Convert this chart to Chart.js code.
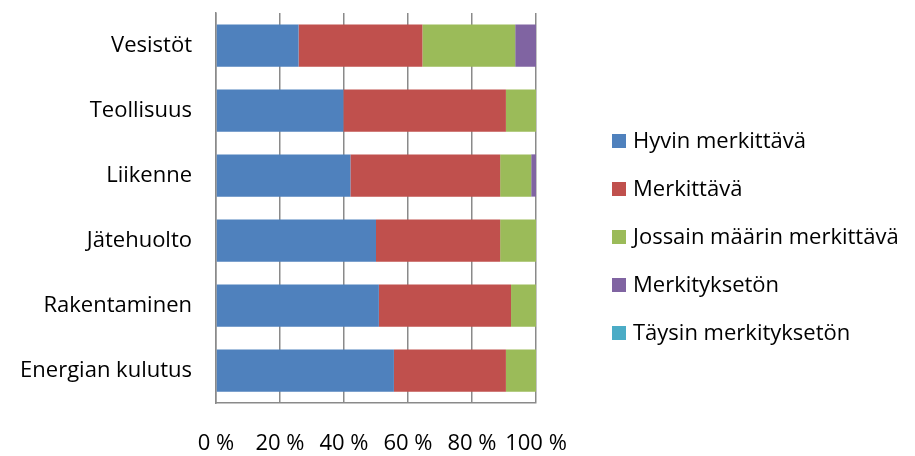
<!DOCTYPE html>
<html lang="fi">
<head>
<meta charset="utf-8">
<title>Vaikutusten merkittävyys</title>
<script src="https://cdn.jsdelivr.net/npm/chart.js@4/dist/chart.umd.min.js"></script>
<style>
    html, body { margin: 0; padding: 0; background: #fff; }
    #wrap { width: 915px; height: 456px; }
</style>
</head>
<body>
<div id="wrap"><canvas id="chart" width="915" height="456"></canvas></div>
<script>
// Toimialat ylhäältä alas
const categories = ['Vesistöt', 'Teollisuus', 'Liikenne', 'Jätehuolto', 'Rakentaminen', 'Energian kulutus'];

// Osuudet prosentteina
const hyvinMerkittava = [25.8, 39.8, 42.0, 50.0, 50.9, 55.6];
const merkittava = [38.7, 50.8, 46.8, 38.8, 41.3, 35.0];
const jossainMaarin = [29.0, 9.4, 9.7, 11.2, 7.8, 9.4];
const merkitykseton = [6.5, 0, 1.5, 0, 0, 0];
const taysinMerkitykseton = [0, 0, 0, 0, 0, 0];

const xTicks = [0, 20, 40, 60, 80, 100];

const fontFamily = '"Open Sans", "DejaVu Sans", sans-serif';
const fontSize = 22;

// Selite piirretään oikealle omana pluginina
const sideLegend = {
    id: 'sideLegend',
    afterDraw(chart) {
        const ctx = chart.ctx;
        ctx.save();
        ctx.font = fontSize + 'px ' + fontFamily;
        ctx.textBaseline = 'middle';
        ctx.textAlign = 'left';
        chart.data.datasets.forEach((ds, i) => {
            const cy = 141 + i * 48;
            ctx.fillStyle = ds.backgroundColor;
            ctx.fillRect(612, cy - 7, 14, 14);
            ctx.fillStyle = '#000';
            ctx.fillText(ds.label, 633, cy + 1);
        });
        ctx.restore();
    }
};

const chart = new Chart(document.getElementById('chart'), {
    type: 'bar',
    data: {
        labels: categories,
        datasets: [
            { label: 'Hyvin merkittävä', data: hyvinMerkittava, backgroundColor: '#4F81BD' },
            { label: 'Merkittävä', data: merkittava, backgroundColor: '#C0504D' },
            { label: 'Jossain määrin merkittävä', data: jossainMaarin, backgroundColor: '#9BBB59' },
            { label: 'Merkityksetön', data: merkitykseton, backgroundColor: '#8064A2' },
            { label: 'Täysin merkityksetön', data: taysinMerkitykseton, backgroundColor: '#4BACC6' }
        ]
    },
    options: {
        responsive: false,
        animation: false,
        indexAxis: 'y',
        layout: { padding: { top: 13, right: 379, bottom: 0, left: 0 } },
        datasets: {
            bar: { barPercentage: 0.65, categoryPercentage: 1, borderWidth: 0 }
        },
        scales: {
            x: {
                stacked: true,
                min: 0,
                max: 100,
                afterBuildTicks(scale) {
                    scale.ticks = xTicks.map(v => ({ value: v }));
                },
                afterFit(scale) {
                    scale.height = 53;
                    scale.paddingLeft = 0;
                    scale.paddingRight = 0;
                },
                ticks: {
                    autoSkip: false,
                    padding: 28,
                    color: '#000',
                    font: { family: fontFamily, size: fontSize },
                    maxRotation: 0,
                    minRotation: 0,
                    callback: v => v + ' %'
                },
                grid: { color: '#8a8a8a', lineWidth: 1.5, drawTicks: false },
                border: { color: '#8a8a8a', width: 1.5 }
            },
            y: {
                stacked: true,
                afterFit(scale) {
                    scale.width = 216;
                    scale.paddingTop = 0;
                    scale.paddingBottom = 0;
                },
                ticks: {
                    padding: 24,
                    color: '#000',
                    font: { family: fontFamily, size: fontSize }
                },
                grid: { display: false, drawTicks: false },
                border: { color: '#8a8a8a', width: 1.5 }
            }
        },
        plugins: {
            legend: { display: false },
            tooltip: { enabled: false }
        }
    },
    plugins: [sideLegend]
});
</script>
</body>
</html>
